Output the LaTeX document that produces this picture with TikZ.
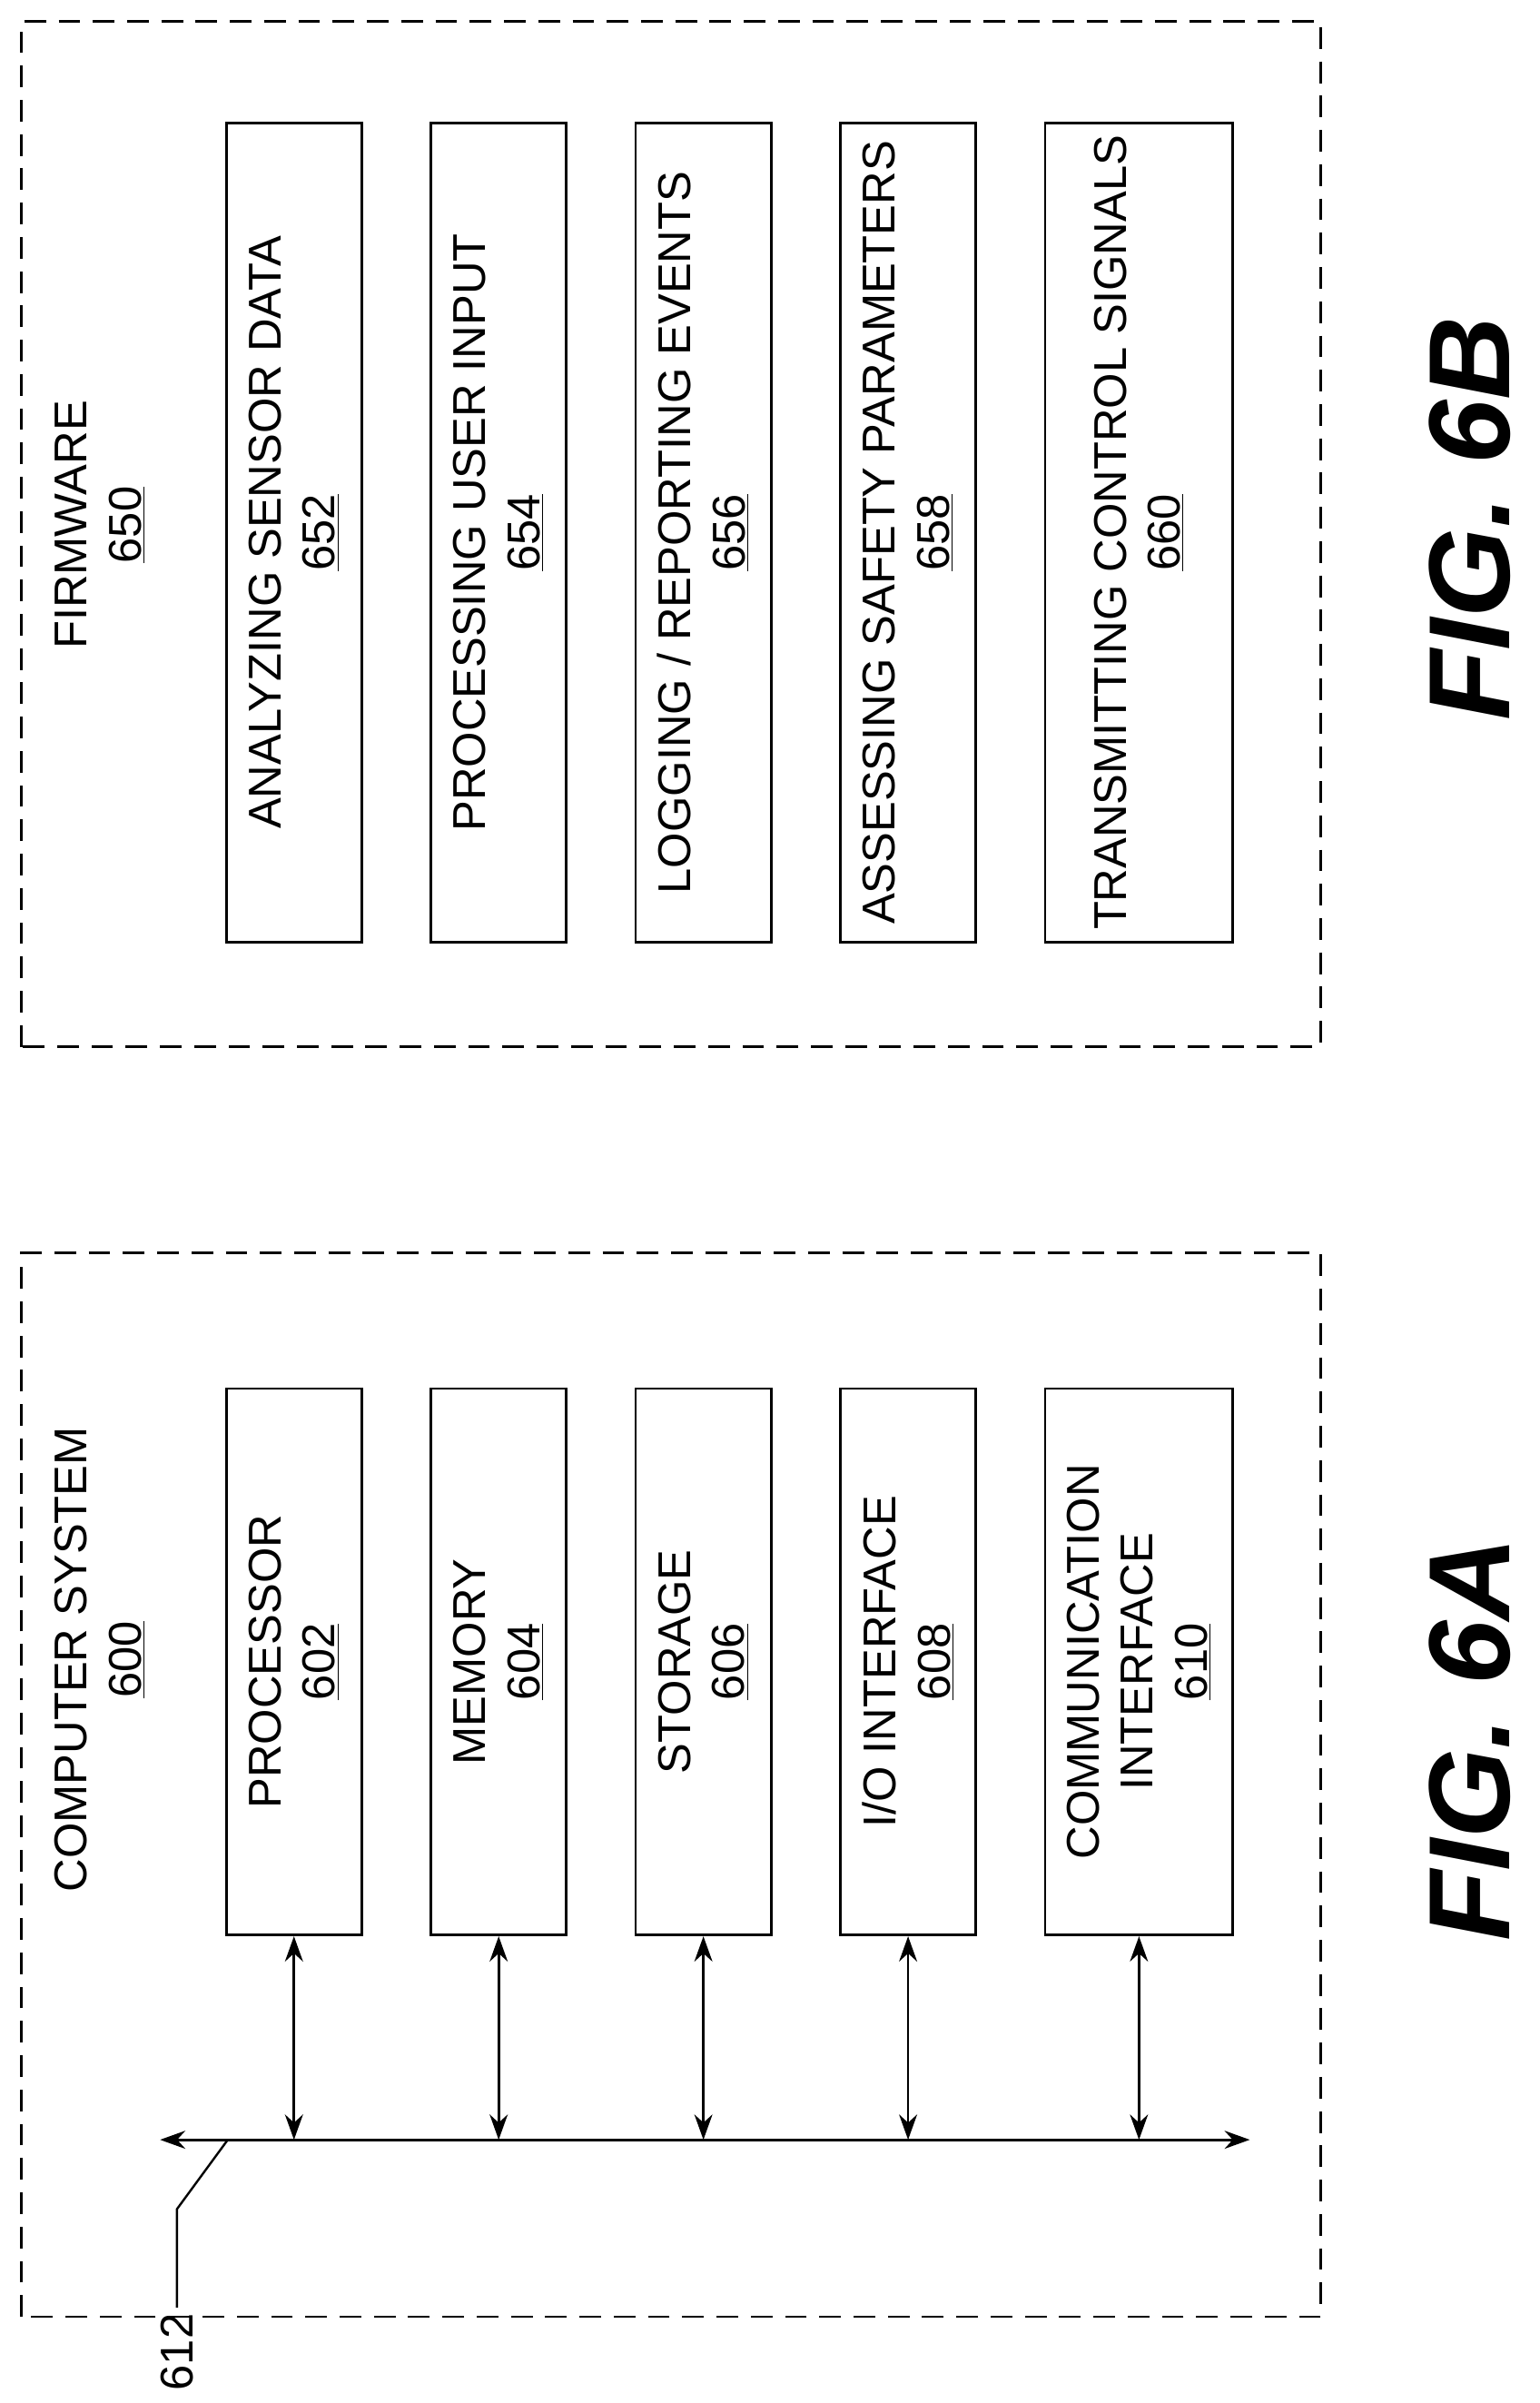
\documentclass[tikz,border=0pt]{standalone}
\usepackage{fontspec}
\setmainfont{Liberation Sans}
\usetikzlibrary{arrows.meta}
\tikzset{
  box/.style = {draw, line width=1.4pt, rotate=90, align=center, inner sep=0pt,
                font=\fontsize{25.5}{30}\selectfont},
  lbl/.style = {rotate=90, align=center, font=\fontsize{25.5}{30}\selectfont},
  fig/.style = {rotate=90, font=\fontsize{64}{72}\selectfont\bfseries\itshape},
  link/.style = {line width=1.4pt, {Stealth[length=14pt,width=10pt]}-{Stealth[length=14pt,width=10pt]}},
  frame/.style = {line width=1.4pt, dash pattern=on 12pt off 7pt}
}
\begin{document}
\begin{tikzpicture}[x=0.03cm, y=0.03cm]
    \useasboundingbox (0,0) rectangle (1000,1561);

    % firmware
    \draw[frame] (14,881) rectangle (858,1547);
    \node[lbl] (fw) at (65,1220) {FIRMWARE\\\underline{650}};
    \node[box, minimum width=15.96cm, minimum height=2.64cm] (b652) at (191,1215) {ANALYZING SENSOR DATA\\\underline{652}};
    \node[box, minimum width=15.96cm, minimum height=2.64cm] (b654) at (324,1215) {PROCESSING USER INPUT\\\underline{654}};
    \node[box, minimum width=15.96cm, minimum height=2.64cm] (b656) at (457,1215) {LOGGING / REPORTING EVENTS\\\underline{656}};
    \node[box, minimum width=15.96cm, minimum height=2.64cm] (b658) at (590,1215) {ASSESSING SAFETY PARAMETERS\\\underline{658}};
    \node[box, minimum width=15.96cm, minimum height=3.66cm] (b660) at (740,1215) {TRANSMITTING CONTROL SIGNALS\\\underline{660}};
    \node[fig] (fig6b) at (955,1224) {FIG. 6B};

    % computer system
    \draw[frame] (14,56) rectangle (858,747);
    \node[lbl] (cs) at (65,483) {COMPUTER SYSTEM\\\underline{600}};
    \node[box, minimum width=10.65cm, minimum height=2.64cm] (b602) at (191,481.5) {PROCESSOR\\\underline{602}};
    \node[box, minimum width=10.65cm, minimum height=2.64cm] (b604) at (324,481.5) {MEMORY\\\underline{604}};
    \node[box, minimum width=10.65cm, minimum height=2.64cm] (b606) at (457,481.5) {STORAGE\\\underline{606}};
    \node[box, minimum width=10.65cm, minimum height=2.64cm] (b608) at (590,481.5) {I/O INTERFACE\\\underline{608}};
    \node[box, minimum width=10.65cm, minimum height=3.66cm] (b610) at (740,481.5) {COMMUNICATION\\INTERFACE\\\underline{610}};
    \node[fig] (fig6a) at (955,431) {FIG. 6A};

    % bus
    \coordinate (busL) at (104,171);
    \coordinate (busR) at (812,171);
    \draw[link] (busL) -- (busR);
    \foreach \b in {b602,b604,b606,b608,b610}
        \draw[link] (\b.west) -- (\b.west |- busL);

    % reference 612
    \coordinate (tap) at (148,171);
    \coordinate (bend) at (115,126);
    \node[lbl] (n612) at (115,33) {612};
    \draw[line width=1.2pt] (tap) -- (bend) -- (n612.east);
\end{tikzpicture}
\end{document}
